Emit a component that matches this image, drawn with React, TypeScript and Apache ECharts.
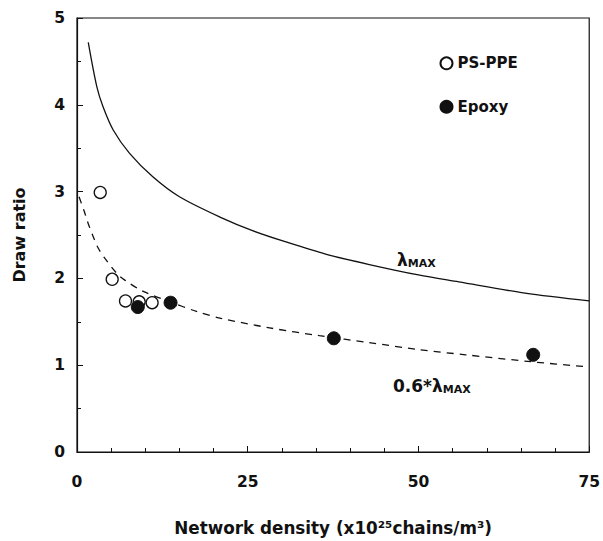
import React, { useEffect, useRef } from "react";
import * as echarts from "echarts";

const psppeX = [3.4, 5.15, 7.1, 9.1, 11.0];
const psppeY = [2.99, 1.99, 1.74, 1.73, 1.72];

const epoxyX = [8.9, 13.7, 37.6, 66.8];
const epoxyY = [1.67, 1.72, 1.31, 1.12];

const lambdaMaxX = [1.65, 2.9, 3.8, 5.3, 7.7, 11.1, 15.0, 21.1, 25.7, 30.6, 36.4, 42.8, 50.0, 55.9, 65.6, 75.0];
const lambdaMaxY = [4.72, 4.21, 3.98, 3.71, 3.44, 3.17, 2.94, 2.70, 2.55, 2.42, 2.28, 2.16, 2.04, 1.96, 1.83, 1.74];

const lambda06X = [0.3, 1.07, 1.65, 2.38, 3.1, 4.09, 5.8, 7.0, 9.7, 13.6, 17.5, 21.1, 28.2, 35.5, 42.8, 50.0, 56.9, 66.5, 75.0];
const lambda06Y = [2.94, 2.77, 2.63, 2.48, 2.35, 2.23, 2.06, 1.98, 1.85, 1.73, 1.62, 1.54, 1.43, 1.34, 1.26, 1.18, 1.12, 1.04, 0.98];

const xTicks = [0, 25, 50, 75];
const yTicks = [0, 1, 2, 3, 4, 5];

const zip = (xs: number[], ys: number[]) => xs.map((x, i) => [x, ys[i]]);

const FONT = "DejaVu Sans";
const INK = "#111";

export default function App() {
  const ref = useRef<HTMLDivElement>(null);
  useEffect(() => {
    if (!ref.current) return;
    const chart = echarts.init(ref.current, undefined, { renderer: "svg" });
    chart.setOption({
      animation: false,
      backgroundColor: "#ffffff",
      textStyle: { fontFamily: FONT },
      grid: {
        left: 77,
        top: 18,
        right: 12,
        bottom: 89,
        show: true,
        borderColor: INK,
        borderWidth: 1.2,
      },
      legend: {
        orient: "vertical",
        left: 439.5,
        top: 55.3,
        padding: 0,
        itemWidth: 12,
        itemHeight: 12,
        itemGap: 27.4,
        icon: "circle",
        data: ["PS-PPE", "Epoxy"],
        textStyle: { fontFamily: FONT, fontSize: 15, fontWeight: "bold", color: INK, lineHeight: 16 },
      },
      xAxis: {
        type: "value",
        min: xTicks[0],
        max: xTicks[xTicks.length - 1],
        interval: 25,
        axisLine: { show: true, lineStyle: { color: INK, width: 1.2 } },
        axisTick: { show: true, inside: true, length: 6, lineStyle: { color: INK } },
        minorTick: { show: true, splitNumber: 5, length: 4, lineStyle: { color: INK } },
        splitLine: { show: false },
        axisLabel: { fontFamily: FONT, fontSize: 15.5, fontWeight: "bold", color: INK, margin: 22 },
        name: "Network density (x10²⁵chains/m³)",
        nameLocation: "middle",
        nameGap: 67,
        nameTextStyle: { fontFamily: FONT, fontSize: 16.8, fontWeight: "bold", color: INK },
      },
      yAxis: {
        type: "value",
        min: yTicks[0],
        max: yTicks[yTicks.length - 1],
        interval: 1,
        axisLine: { show: true, lineStyle: { color: INK, width: 1.2 } },
        axisTick: { show: true, inside: true, length: 6, lineStyle: { color: INK } },
        minorTick: { show: true, splitNumber: 2, length: 4, lineStyle: { color: INK } },
        splitLine: { show: false },
        axisLabel: { fontFamily: FONT, fontSize: 15.5, fontWeight: "bold", color: INK, margin: 12 },
        name: "Draw ratio",
        nameLocation: "middle",
        nameGap: 50,
        nameTextStyle: { fontFamily: FONT, fontSize: 16, fontWeight: "bold", color: INK },
      },
      series: [
        {
          name: "λMAX",
          type: "line",
          data: zip(lambdaMaxX, lambdaMaxY),
          smooth: 0.3,
          showSymbol: false,
          lineStyle: { color: INK, width: 1.3 },
          z: 2,
        },
        {
          name: "0.6*λMAX",
          type: "line",
          data: zip(lambda06X, lambda06Y),
          smooth: 0.3,
          showSymbol: false,
          lineStyle: { color: INK, width: 1.3, type: [7, 6] },
          z: 2,
        },
        {
          name: "PS-PPE",
          type: "scatter",
          data: zip(psppeX, psppeY),
          symbol: "circle",
          symbolSize: 12,
          itemStyle: { color: "#ffffff", borderColor: INK, borderWidth: 1.3, opacity: 1 },
          z: 3,
        },
        {
          name: "Epoxy",
          type: "scatter",
          data: zip(epoxyX, epoxyY),
          symbol: "circle",
          symbolSize: 13,
          itemStyle: { color: INK, borderColor: INK, borderWidth: 1, opacity: 1 },
          z: 4,
        },
      ],
      graphic: [
        {
          type: "text",
          left: 397,
          top: 251,
          style: {
            text: "{a|λ}{b|MAX}",
            rich: {
              a: { fontFamily: FONT, fontSize: 17, fontWeight: "bold", fill: INK, color: INK },
              b: { fontFamily: FONT, fontSize: 11, fontWeight: "bold", fill: INK, color: INK, verticalAlign: "bottom", padding: [7, 0, 0, 0] },
            },
          },
        },
        {
          type: "text",
          left: 393,
          top: 377,
          style: {
            text: "{a|0.6*λ}{b|MAX}",
            rich: {
              a: { fontFamily: FONT, fontSize: 17, fontWeight: "bold", fill: INK, color: INK },
              b: { fontFamily: FONT, fontSize: 11, fontWeight: "bold", fill: INK, color: INK, verticalAlign: "bottom", padding: [7, 0, 0, 0] },
            },
          },
        },
      ],
    });
    return () => chart.dispose();
  }, []);
  return <div ref={ref} style={{ width: 603, height: 541, position: "absolute", left: 0, top: 0 }} />;
}
